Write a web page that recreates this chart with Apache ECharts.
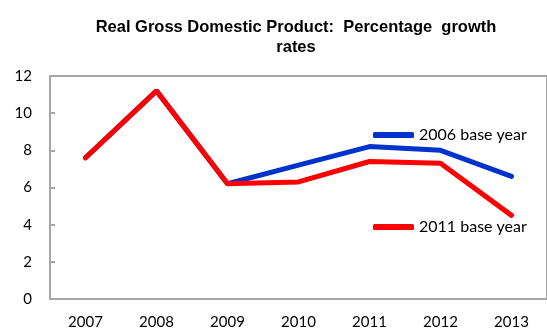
<!DOCTYPE html>
<html><head><meta charset="utf-8">
<script src="https://cdn.jsdelivr.net/npm/echarts@6/dist/echarts.min.js"></script>
<style>html,body{margin:0;padding:0;background:#fff}#c{width:547px;height:332px}</style>
</head><body><div id="c"></div>
<script>
const years = ['2007','2008','2009','2010','2011','2012','2013'];
const base2006 = [7.6, 11.2, 6.2, 7.2, 8.2, 8.0, 6.6];
const base2011 = [7.6, 11.2, 6.2, 6.3, 7.4, 7.3, 4.5];
const yTicks = [0, 2, 4, 6, 8, 10, 12];

const chart = echarts.init(document.getElementById('c'));
const txt = {fontFamily: 'Lato, Carlito, sans-serif', fontSize: 15, color: '#000'};
const legTxt = {fontFamily: 'Lato, Carlito, sans-serif', fontSize: 16, color: '#000'};
chart.setOption({
  animation: false,
  title: {
    text: 'Real Gross Domestic Product:  Percentage  growth\nrates',
    left: 291, top: 12, textAlign: 'center',
    textStyle: {fontFamily: '"Liberation Sans", Arial, sans-serif', fontWeight: 'bold', fontSize: 16.5, lineHeight: 20, color: '#000'}
  },
  legend: [
    {data: ['2006 base year'], left: 373, top: 127, padding: 0, itemWidth: 41, itemHeight: 6, itemGap: 3,
     icon: 'roundRect', textStyle: legTxt},
    {data: ['2011 base year'], left: 373, top: 219, padding: 0, itemWidth: 41, itemHeight: 6, itemGap: 3,
     icon: 'roundRect', textStyle: legTxt}
  ],
  grid: {left: 50, right: -14, top: 76, bottom: 33, show: true, borderColor: '#a6a6a6', borderWidth: 2},
  xAxis: {
    type: 'category', data: years, boundaryGap: true,
    axisLine: {lineStyle: {color: '#a6a6a6', width: 2}},
    axisTick: {inside: true, length: 5, lineStyle: {color: '#a6a6a6', width: 2}},
    axisLabel: Object.assign({margin: 16}, txt)
  },
  yAxis: {
    type: 'value', min: yTicks[0], max: yTicks[yTicks.length-1], interval: 2,
    axisLine: {show: true, lineStyle: {color: '#a6a6a6', width: 2}},
    axisTick: {show: true, inside: true, length: 5, lineStyle: {color: '#a6a6a6', width: 2}},
    splitLine: {show: false},
    axisLabel: Object.assign({margin: 18}, txt)
  },
  series: [
    {name: '2006 base year', type: 'line', data: base2006, symbol: 'none', z: 2,
     itemStyle: {color: '#0033cc'}, lineStyle: {color: '#0033cc', width: 5, cap: 'round'}},
    {name: '2011 base year', type: 'line', data: base2011, symbol: 'none', z: 3,
     itemStyle: {color: '#ff0000'}, lineStyle: {color: '#ff0000', width: 5, cap: 'round'}}
  ]
});
</script></body></html>
